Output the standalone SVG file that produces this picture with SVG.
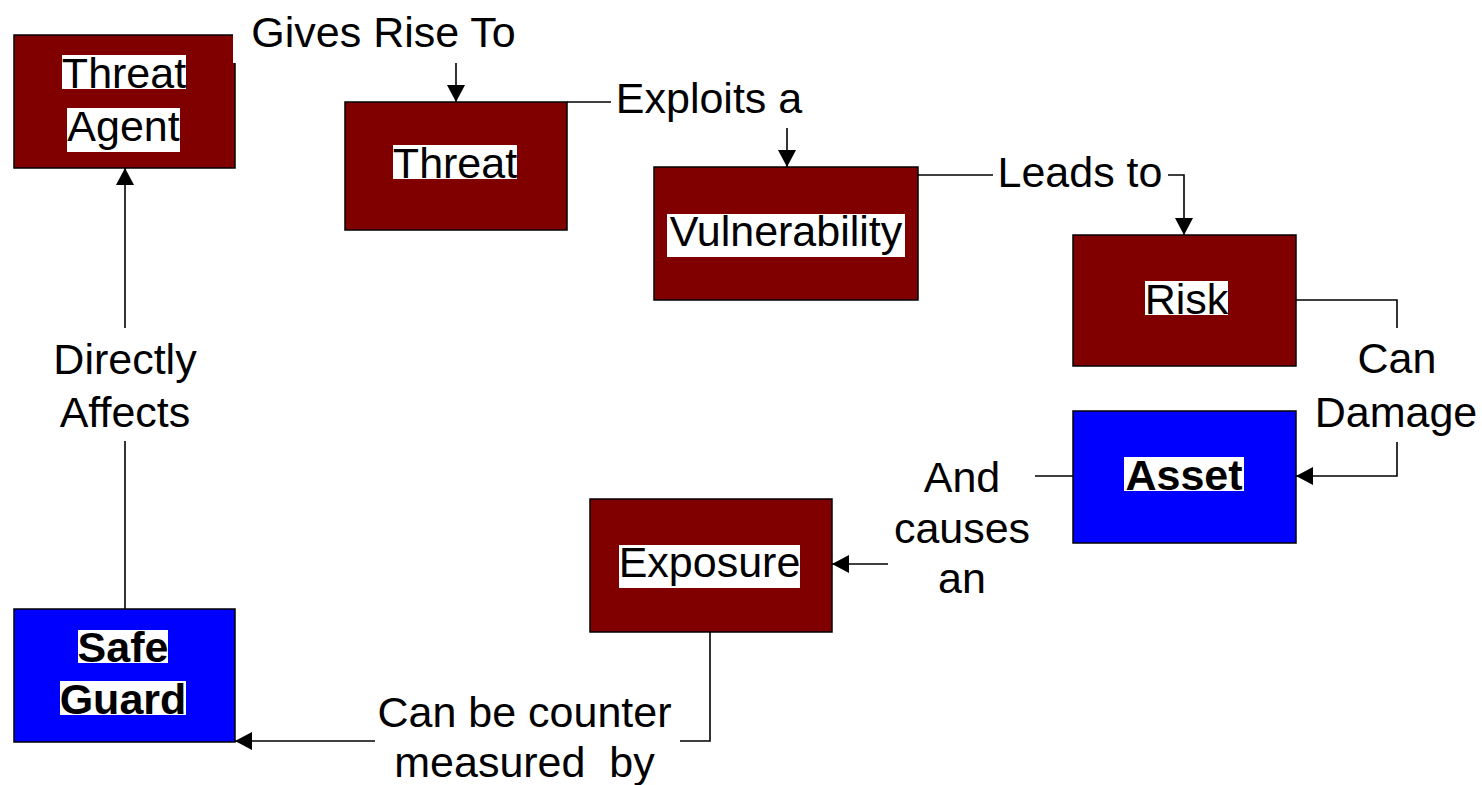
<svg xmlns="http://www.w3.org/2000/svg" width="1482" height="785" viewBox="0 0 1482 785">
  <defs>
    <style>
      .box-red { fill: #800000; stroke: #000; stroke-width: 1.5; }
      .box-blue { fill: #0000ff; stroke: #000; stroke-width: 1.5; }
      .hl { fill: #fff; }
      .t { font-family: "Liberation Sans", Arial, sans-serif; font-size: 43px; fill: #000; text-anchor: middle; white-space: pre; }
      .b { font-weight: bold; }
      .wire { fill: none; stroke: #000; stroke-width: 1.6; }
      .arrow { marker-end: url(#head); }
    </style>
    <marker id="head" markerUnits="userSpaceOnUse" markerWidth="18" markerHeight="18" refX="17" refY="9" orient="auto">
      <path d="M0,0 L17,9 L0,18 Z" fill="#000"/>
    </marker>
  </defs>
  <rect width="1482" height="785" fill="#fff"/>

  <!-- nodes -->
  <g id="threat-agent">
    <rect class="box-red" x="14" y="35" width="221" height="133"/>
    <rect class="hl" x="62" y="55" width="124" height="34"/>
    <rect class="hl" x="67" y="108" width="113" height="44"/>
    <text class="t" x="124" y="88">Threat</text>
    <text class="t" x="123.5" y="141">Agent</text>
  </g>
  <g id="threat">
    <rect class="box-red" x="345" y="102" width="222" height="128"/>
    <rect class="hl" x="393" y="145" width="124" height="34"/>
    <text class="t" x="455" y="178">Threat</text>
  </g>
  <g id="vulnerability">
    <rect class="box-red" x="654" y="167" width="264" height="133"/>
    <rect class="hl" x="667" y="214" width="238" height="43"/>
    <text class="t" x="786" y="246">Vulnerability</text>
  </g>
  <g id="risk">
    <rect class="box-red" x="1073" y="235" width="223" height="131"/>
    <rect class="hl" x="1145" y="281" width="83" height="34"/>
    <text class="t" x="1186.5" y="314">Risk</text>
  </g>
  <g id="asset">
    <rect class="box-blue" x="1073" y="411" width="223" height="132"/>
    <rect class="hl" x="1124" y="457" width="120" height="34"/>
    <text class="t b" x="1184" y="490">Asset</text>
  </g>
  <g id="exposure">
    <rect class="box-red" x="590" y="499" width="242" height="133"/>
    <rect class="hl" x="619" y="545" width="181" height="43"/>
    <text class="t" x="709.5" y="577">Exposure</text>
  </g>
  <g id="safe-guard">
    <rect class="box-blue" x="14" y="609" width="221" height="133"/>
    <rect class="hl" x="78" y="630" width="90" height="33"/>
    <rect class="hl" x="60" y="681" width="126" height="34"/>
    <text class="t b" x="123" y="662">Safe</text>
    <text class="t b" x="123" y="714">Guard</text>
  </g>

  <!-- connectors and their labels -->
  <g id="connectors">
    <rect class="hl" x="233" y="8" width="295" height="55"/>
    <text class="t" x="383.5" y="47">Gives Rise To</text>
    <path class="wire arrow" d="M456,63 V102"/>

    <path class="wire" d="M567,102 H611"/>
    <text class="t" x="709" y="113">Exploits a</text>
    <path class="wire arrow" d="M787,128 V167"/>

    <path class="wire" d="M918,175 H993"/>
    <text class="t" x="1080" y="187">Leads to</text>
    <path class="wire arrow" d="M1168,175 H1184 V235"/>

    <path class="wire" d="M1296,300 H1397 V328"/>
    <text class="t" x="1397" y="373">Can</text>
    <text class="t" x="1396" y="427">Damage</text>
    <path class="wire arrow" d="M1397,442 V476 H1296"/>

    <path class="wire" d="M1073,476 H1035"/>
    <text class="t" x="962" y="492">And</text>
    <text class="t" x="962" y="543">causes</text>
    <text class="t" x="962" y="593">an</text>
    <path class="wire arrow" d="M888,564 H832"/>

    <path class="wire" d="M710,632 V741 H680"/>
    <text class="t" x="524.5" y="727">Can be counter</text>
    <text class="t" x="524.5" y="777">measured  by</text>
    <path class="wire arrow" d="M375,741 H235"/>

    <path class="wire" d="M125,609 V441"/>
    <text class="t" x="125" y="374">Directly</text>
    <text class="t" x="125" y="427">Affects</text>
    <path class="wire arrow" d="M125,328 V168"/>
  </g>
</svg>
